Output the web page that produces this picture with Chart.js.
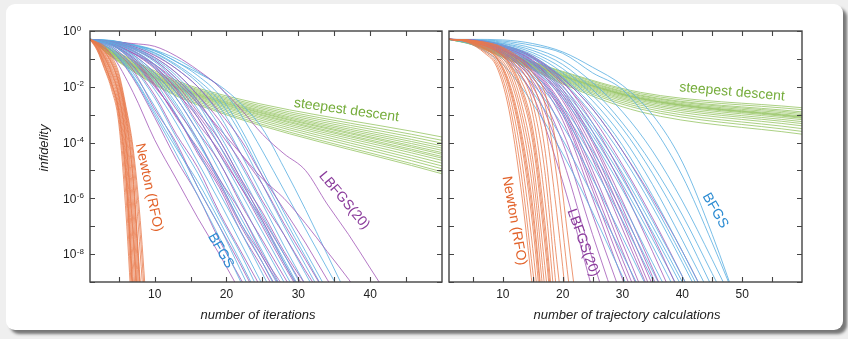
<!DOCTYPE html>
<html>
<head>
<meta charset="utf-8">
<script src="https://cdn.jsdelivr.net/npm/chart.js@4.4.1/dist/chart.umd.min.js"></script>
<style>
  html, body { margin: 0; padding: 0; }
  body { width: 848px; height: 339px; background: #efefef; position: relative; overflow: hidden; }
  .card { position: absolute; left: 6px; top: 4px; width: 837px; height: 326px; background: #fff;
          border-radius: 9px; box-shadow: 4px 4px 3px rgba(0,0,0,0.5); }
  canvas { position: absolute; top: 0; }
  #iterChart { left: 0; }
  #trajChart { left: 446px; }
</style>
</head>
<body>
<div class="card"></div>
<canvas id="iterChart" width="446" height="339"></canvas>
<canvas id="trajChart" width="402" height="339"></canvas>
<script>
const FONT = '"Liberation Sans", Arial, Helvetica, sans-serif';

// eixos (expoentes de 10 para a infidelidade)
const yTickExps = [0, -1, -2, -3, -4, -5, -6, -7, -8, -9];
const yLabelExps = [0, -2, -4, -6, -8];
const iterXTicks = [5, 10, 15, 20, 25, 30, 35, 40, 45];
const trajXTicks = [5, 10, 15, 20, 25, 30, 35, 40, 45, 50, 55];

// ---- painel 1: número de iterações (valores = log10 da infidelidade) ----
const iterNewtonX = [1, 2, 3, 4, 5, 6, 7, 8, 9];
const iterNewton = [
  [-0.3, -0.7, -1.35, -2.1, -3.3, -6.5, -11, null, null],
  [-0.3, -0.66, -1.3, -2.0, -3.1, -5.9, -10.4, null, null],
  [-0.3, -0.63, -1.22, -1.92, -2.95, -5.4, -9.8, null, null],
  [-0.3, -0.6, -1.15, -1.85, -2.8, -5.0, -9.3, null, null],
  [-0.3, -0.58, -1.08, -1.75, -2.65, -4.7, -8.8, -12, null],
  [-0.3, -0.55, -1.02, -1.65, -2.5, -4.4, -8.2, -12, null],
  [-0.3, -0.53, -0.96, -1.55, -2.38, -4.1, -7.6, -11.6, null],
  [-0.3, -0.5, -0.9, -1.45, -2.25, -3.85, -7.0, -11.2, null],
  [-0.3, -0.49, -0.85, -1.38, -2.12, -3.6, -6.5, -10.8, null],
  [-0.3, -0.47, -0.8, -1.3, -2.0, -3.4, -6.0, -10.2, null],
  [-0.3, -0.46, -0.75, -1.2, -1.9, -3.2, -5.5, -9.6, null],
  [-0.3, -0.44, -0.7, -1.12, -1.8, -3.0, -5.1, -9.0, -12],
  [-0.3, -0.43, -0.65, -1.05, -1.7, -2.9, -4.7, -8.0, -11.8],
  [-0.3, -0.42, -0.6, -0.98, -1.6, -2.8, -4.4, -7.3, -11.2],
  [-0.3, -0.4, -0.55, -0.9, -1.5, -2.7, -4.2, -6.8, -10.5],
  [-0.3, -0.62, -1.18, -1.88, -2.85, -5.2, -9.6, null, null],
  [-0.3, -0.52, -0.93, -1.5, -2.3, -3.95, -7.3, -11.4, null],
  [-0.3, -0.45, -0.72, -1.15, -1.85, -3.1, -5.3, -9.3, null]
];

const iterBfgsX = [1, 4, 7, 10, 13, 16, 19, 22, 25, 28, 31, 34, 37];
const iterBfgs = [
  [-0.3, -0.7, -1.65, -3.0, -4.4, -5.9, -7.4, -9.0, null, null, null, null, null],
  [-0.3, -0.6, -1.5, -2.7, -4.1, -5.6, -7.0, -8.6, -10.2, null, null, null, null],
  [-0.3, -0.55, -1.3, -2.4, -3.8, -5.1, -6.6, -8.0, -9.6, null, null, null, null],
  [-0.3, -0.5, -1.1, -2.1, -3.3, -4.7, -6.1, -7.6, -9.1, null, null, null, null],
  [-0.3, -0.5, -1.0, -1.8, -3.0, -4.3, -5.8, -7.2, -8.7, -10.2, null, null, null],
  [-0.3, -0.45, -0.9, -1.6, -2.6, -3.9, -5.4, -6.9, -8.3, -9.8, null, null, null],
  [-0.3, -0.45, -0.85, -1.5, -2.4, -3.6, -5.0, -6.5, -7.9, -9.4, null, null, null],
  [-0.3, -0.42, -0.75, -1.3, -2.2, -3.4, -4.7, -6.1, -7.6, -9.0, -10.5, null, null],
  [-0.3, -0.42, -0.7, -1.2, -2.0, -3.1, -4.4, -5.8, -7.2, -8.6, -10.0, null, null],
  [-0.3, -0.4, -0.65, -1.1, -1.8, -2.8, -4.1, -5.5, -6.9, -8.3, -9.7, null, null],
  [-0.3, -0.4, -0.6, -1.0, -1.6, -2.5, -3.7, -5.1, -6.6, -8.0, -9.4, null, null],
  [-0.3, -0.38, -0.58, -0.95, -1.5, -2.3, -3.4, -4.8, -6.2, -7.7, -9.1, null, null],
  [-0.3, -0.37, -0.55, -0.85, -1.35, -2.0, -3.0, -4.4, -5.9, -7.3, -8.7, -10.1, null],
  [-0.3, -0.36, -0.52, -0.8, -1.25, -1.85, -2.7, -4.0, -5.5, -7.0, -8.4, -9.8, null],
  [-0.3, -0.35, -0.5, -0.72, -1.1, -1.6, -2.3, -3.5, -5.0, -6.5, -7.9, -9.3, null],
  [-0.3, -0.35, -0.48, -0.68, -1.0, -1.45, -2.0, -3.0, -4.3, -5.7, -7.1, -8.5, -9.9],
  [-0.3, -0.34, -0.5, -0.7, -1.1, -1.5, -1.95, -2.6, -3.5, -4.9, -6.4, -8.0, -9.6],
  [-0.3, -0.65, -1.6, -2.9, -4.2, -5.4, -6.8, -8.3, -9.8, null, null, null, null],
  [-0.3, -0.48, -0.95, -1.7, -2.7, -4.0, -5.3, -6.7, -8.1, -9.5, null, null, null],
  [-0.3, -0.4, -0.62, -1.05, -1.7, -2.6, -3.9, -5.3, -6.8, -8.2, -9.6, null, null],
  [-0.3, -0.36, -0.5, -0.78, -1.2, -1.75, -2.5, -3.7, -5.2, -6.7, -8.1, -9.5, null]
];

const iterLbfgsX = [1, 4, 7, 10, 13, 16, 19, 22, 25, 28, 31, 34, 37, 40, 43];
const iterLbfgs = [
  [-0.3, -0.85, -2.2, -3.9, -5.3, -6.7, -8.0, -9.4, null, null, null, null, null, null, null],
  [-0.3, -0.7, -1.7, -3.1, -4.6, -5.9, -7.5, -8.9, -10.3, null, null, null, null, null, null],
  [-0.3, -0.6, -1.4, -2.8, -4.0, -5.6, -7.0, -8.4, -9.9, null, null, null, null, null, null],
  [-0.3, -0.55, -1.25, -2.3, -3.7, -4.9, -6.5, -7.9, -9.3, null, null, null, null, null, null],
  [-0.3, -0.5, -1.1, -2.0, -3.0, -4.4, -5.6, -7.2, -8.5, -9.9, null, null, null, null, null],
  [-0.3, -0.48, -0.95, -1.7, -2.8, -3.9, -5.3, -6.5, -8.0, -9.2, null, null, null, null, null],
  [-0.3, -0.45, -0.85, -1.5, -2.4, -3.6, -4.7, -6.2, -7.5, -8.8, -10.1, null, null, null, null],
  [-0.3, -0.45, -0.8, -1.35, -2.2, -3.1, -4.4, -5.6, -7.0, -8.4, -9.7, null, null, null, null],
  [-0.3, -0.42, -0.7, -1.2, -1.9, -2.9, -3.9, -5.3, -6.5, -7.9, -9.1, null, null, null, null],
  [-0.3, -0.4, -0.65, -1.05, -1.7, -2.5, -3.6, -4.7, -6.1, -7.3, -8.6, -9.8, null, null, null],
  [-0.3, -0.4, -0.6, -0.95, -1.5, -2.3, -3.2, -4.4, -5.5, -6.9, -8.2, -9.5, null, null, null],
  [-0.3, -0.38, -0.55, -0.88, -1.35, -2.0, -2.9, -3.9, -5.2, -6.4, -7.6, -8.9, -10.1, null, null],
  [-0.3, -0.45, -0.8, -1.2, -1.8, -2.6, -3.5, -4.4, -5.3, -6.0, -6.9, -7.9, -8.9, -10.0, null],
  [-0.3, -0.38, -0.45, -0.55, -0.9, -1.4, -2.0, -2.8, -3.7, -4.4, -5.0, -6.2, -7.3, -8.5, -9.7],
  [-0.3, -0.5, -1.0, -1.9, -3.1, -4.2, -5.4, -6.9, -8.1, -9.4, null, null, null, null, null],
  [-0.3, -0.42, -0.72, -1.25, -2.1, -3.3, -4.3, -5.6, -6.8, -8.3, -9.6, null, null, null, null],
  [-0.3, -0.5, -1.05, -1.95, -3.05, -4.3, -5.5, -7.0, -8.3, -9.7, null, null, null, null, null],
  [-0.3, -0.44, -0.78, -1.3, -2.05, -3.0, -4.1, -5.4, -6.7, -8.0, -9.3, null, null, null, null]
];

const iterSdX = [1, 2, 4, 7, 11, 16, 50];
const iterSd = [
  [-0.3, -0.38, -0.65, -1.05, -1.55, -2.05, -3.8],
  [-0.3, -0.4, -0.68, -1.08, -1.6, -2.1, -3.92],
  [-0.3, -0.4, -0.7, -1.12, -1.63, -2.14, -4.02],
  [-0.3, -0.42, -0.72, -1.15, -1.67, -2.18, -4.12],
  [-0.3, -0.42, -0.74, -1.18, -1.7, -2.22, -4.2],
  [-0.3, -0.43, -0.76, -1.2, -1.73, -2.25, -4.28],
  [-0.3, -0.44, -0.77, -1.22, -1.76, -2.28, -4.36],
  [-0.3, -0.44, -0.78, -1.24, -1.78, -2.3, -4.42],
  [-0.3, -0.45, -0.8, -1.26, -1.8, -2.33, -4.5],
  [-0.3, -0.45, -0.81, -1.28, -1.83, -2.36, -4.56],
  [-0.3, -0.46, -0.83, -1.3, -1.86, -2.4, -4.64],
  [-0.3, -0.47, -0.85, -1.33, -1.9, -2.44, -4.74],
  [-0.3, -0.48, -0.87, -1.36, -1.94, -2.49, -4.84],
  [-0.3, -0.49, -0.89, -1.39, -1.98, -2.54, -4.94],
  [-0.3, -0.5, -0.91, -1.42, -2.03, -2.6, -5.05],
  [-0.3, -0.5, -0.93, -1.45, -2.07, -2.65, -5.12]
];

// ---- painel 2: número de cálculos de trajetória ----
const trajNewtonX = [1, 4, 7, 9, 11, 13, 15, 17, 19, 21, 23];
const trajNewton = [
  [-0.3, -0.4, -0.8, -1.3, -2.8, -5.6, -9.3, null, null, null, null],
  [-0.3, -0.39, -0.75, -1.2, -2.5, -5.0, -8.6, -12, null, null, null],
  [-0.3, -0.38, -0.7, -1.1, -2.2, -4.4, -7.8, -12, null, null, null],
  [-0.3, -0.37, -0.66, -1.0, -2.0, -3.9, -7.0, -11.5, null, null, null],
  [-0.3, -0.36, -0.62, -0.95, -1.8, -3.5, -6.3, -10.8, null, null, null],
  [-0.3, -0.36, -0.6, -0.9, -1.6, -3.1, -5.7, -10, null, null, null],
  [-0.3, -0.35, -0.57, -0.85, -1.45, -2.8, -5.1, -9.2, null, null, null],
  [-0.3, -0.35, -0.54, -0.8, -1.3, -2.5, -4.6, -8.4, -12.5, null, null],
  [-0.3, -0.34, -0.52, -0.75, -1.2, -2.2, -4.0, -7.6, -12, null, null],
  [-0.3, -0.34, -0.5, -0.7, -1.1, -1.95, -3.5, -6.8, -11.5, null, null],
  [-0.3, -0.33, -0.48, -0.66, -1.0, -1.75, -3.0, -6.0, -10.5, null, null],
  [-0.3, -0.33, -0.46, -0.62, -0.92, -1.55, -2.6, -5.0, -9.4, null, null],
  [-0.3, -0.33, -0.44, -0.58, -0.84, -1.35, -2.2, -4.2, -8.2, -12, null],
  [-0.3, -0.32, -0.42, -0.55, -0.78, -1.2, -1.9, -3.3, -6.5, -10.5, null],
  [-0.3, -0.32, -0.41, -0.52, -0.74, -1.08, -1.65, -2.6, -5.2, -9.0, -12],
  [-0.3, -0.32, -0.4, -0.5, -0.7, -1.0, -1.5, -2.2, -4.2, -7.6, -11],
  [-0.3, -0.37, -0.64, -0.98, -1.9, -3.7, -6.6, -11, null, null, null],
  [-0.3, -0.34, -0.51, -0.72, -1.15, -2.05, -3.75, -7.2, -11.8, null, null]
];

const trajBfgsX = [1, 5, 10, 15, 20, 25, 30, 35, 40, 45, 50];
const trajBfgs = [
  [-0.3, -0.5, -1.2, -2.6, -4.4, -6.5, -8.8, -11, null, null, null],
  [-0.3, -0.45, -1.0, -2.2, -3.9, -5.9, -8.0, -10.2, null, null, null],
  [-0.3, -0.42, -0.9, -1.9, -3.4, -5.3, -7.4, -9.6, null, null, null],
  [-0.3, -0.4, -0.8, -1.7, -3.0, -4.8, -6.8, -8.9, -11, null, null],
  [-0.3, -0.38, -0.75, -1.5, -2.7, -4.3, -6.2, -8.3, -10.4, null, null],
  [-0.3, -0.37, -0.7, -1.35, -2.4, -3.9, -5.7, -7.7, -9.8, null, null],
  [-0.3, -0.36, -0.65, -1.2, -2.2, -3.6, -5.3, -7.2, -9.2, -11.3, null],
  [-0.3, -0.35, -0.6, -1.1, -2.0, -3.3, -4.9, -6.8, -8.8, -10.9, null],
  [-0.3, -0.35, -0.56, -1.0, -1.8, -3.0, -4.5, -6.3, -8.3, -10.4, null],
  [-0.3, -0.34, -0.52, -0.92, -1.65, -2.7, -4.1, -5.9, -7.9, -10.0, null],
  [-0.3, -0.34, -0.5, -0.85, -1.5, -2.5, -3.8, -5.5, -7.5, -9.6, null],
  [-0.3, -0.33, -0.46, -0.78, -1.35, -2.3, -3.5, -5.1, -7.0, -9.2, null],
  [-0.3, -0.33, -0.44, -0.7, -1.2, -2.1, -3.3, -4.8, -6.6, -8.7, -10.8],
  [-0.3, -0.32, -0.4, -0.62, -1.05, -1.85, -2.9, -4.3, -6.1, -8.2, -10.4],
  [-0.3, -0.32, -0.36, -0.52, -0.8, -1.5, -2.1, -3.4, -5.2, -7.6, -10.2],
  [-0.3, -0.3, -0.32, -0.45, -0.75, -1.3, -1.95, -3.0, -4.7, -7.3, -10.3],
  [-0.3, -0.4, -0.78, -1.6, -2.85, -4.55, -6.5, -8.6, -10.7, null, null],
  [-0.3, -0.36, -0.62, -1.15, -2.1, -3.45, -5.1, -7.0, -9.0, -11.1, null],
  [-0.3, -0.37, -0.68, -1.3, -2.3, -3.75, -5.5, -7.45, -9.5, null, null],
  [-0.3, -0.34, -0.54, -0.96, -1.7, -2.8, -4.3, -6.1, -8.1, -10.2, null]
];

const trajLbfgsX = [1, 5, 10, 15, 20, 25, 30, 35, 40, 45];
const trajLbfgs = [
  [-0.3, -0.4, -0.9, -2.3, -5.4, -9.3, null, null, null, null],
  [-0.3, -0.4, -0.85, -2.0, -4.6, -8.2, -11.5, null, null, null],
  [-0.3, -0.38, -0.8, -1.8, -4.0, -7.3, -10.5, null, null, null],
  [-0.3, -0.38, -0.75, -1.65, -3.6, -6.6, -9.6, null, null, null],
  [-0.3, -0.36, -0.7, -1.5, -3.2, -6.0, -8.9, -11.5, null, null],
  [-0.3, -0.36, -0.66, -1.4, -2.9, -5.5, -8.2, -10.8, null, null],
  [-0.3, -0.35, -0.62, -1.3, -2.7, -5.0, -7.6, -10.2, null, null],
  [-0.3, -0.35, -0.6, -1.2, -2.5, -4.6, -7.1, -9.6, null, null],
  [-0.3, -0.34, -0.57, -1.1, -2.3, -4.2, -6.6, -9.1, -11.5, null],
  [-0.3, -0.34, -0.55, -1.05, -2.1, -3.9, -6.1, -8.5, -10.9, null],
  [-0.3, -0.33, -0.52, -0.98, -1.95, -3.6, -5.6, -7.9, -10.3, null],
  [-0.3, -0.33, -0.5, -0.92, -1.8, -3.3, -5.2, -7.3, -9.6, null],
  [-0.3, -0.32, -0.5, -0.9, -1.7, -2.8, -4.3, -6.0, -7.9, -10.0],
  [-0.3, -0.33, -0.52, -0.95, -1.85, -3.1, -4.8, -6.7, -8.8, -11.0],
  [-0.3, -0.37, -0.68, -1.45, -3.0, -5.7, -8.5, -11, null, null],
  [-0.3, -0.35, -0.58, -1.15, -2.4, -4.4, -6.85, -9.4, null, null],
  [-0.3, -0.36, -0.64, -1.35, -2.8, -5.2, -7.9, -10.5, null, null],
  [-0.3, -0.34, -0.56, -1.08, -2.2, -4.0, -6.35, -8.8, -11.2, null]
];

const trajSdX = [1, 5, 10, 15, 20, 33, 60];
const trajSd = [
  [-0.3, -0.4, -0.7, -1.1, -1.45, -2.2, -2.75],
  [-0.3, -0.41, -0.72, -1.12, -1.48, -2.25, -2.82],
  [-0.3, -0.42, -0.74, -1.14, -1.52, -2.3, -2.9],
  [-0.3, -0.42, -0.75, -1.16, -1.55, -2.33, -2.95],
  [-0.3, -0.43, -0.77, -1.18, -1.58, -2.37, -3.0],
  [-0.3, -0.43, -0.78, -1.2, -1.6, -2.4, -3.05],
  [-0.3, -0.44, -0.8, -1.22, -1.63, -2.43, -3.1],
  [-0.3, -0.44, -0.81, -1.24, -1.66, -2.46, -3.13],
  [-0.3, -0.45, -0.83, -1.26, -1.69, -2.5, -3.18],
  [-0.3, -0.45, -0.84, -1.28, -1.72, -2.55, -3.25],
  [-0.3, -0.46, -0.86, -1.3, -1.75, -2.6, -3.32],
  [-0.3, -0.47, -0.88, -1.32, -1.78, -2.66, -3.4],
  [-0.3, -0.48, -0.9, -1.35, -1.82, -2.73, -3.5],
  [-0.3, -0.49, -0.92, -1.37, -1.86, -2.8, -3.6],
  [-0.3, -0.5, -0.95, -1.4, -1.9, -2.9, -3.7],
  [-0.3, -0.44, -0.79, -1.21, -1.62, -2.42, -3.08]
];

// cores
const cNewton = 'rgba(232,122,76,0.78)';
const cBfgs = 'rgba(92,176,226,0.82)';
const cLbfgs = 'rgba(162,88,184,0.8)';
const cSd = 'rgba(150,196,100,0.8)';

// Monta um dataset por curva
function curvas(xs, rows, cor) {
  return rows.map(row => ({
    data: row.map((v, i) => ({ x: xs[i], y: v === null ? null : Math.pow(10, v) })),
    borderColor: cor,
    borderWidth: 1,
    pointRadius: 0,
    fill: false,
    cubicInterpolationMode: 'monotone'
  }));
}

// BFGS e LBFGS alternados, para ficarem misturados no desenho
function misturar(a, b) {
  const out = [];
  for (let i = 0; i < Math.max(a.length, b.length); i++) {
    if (a[i]) out.push(a[i]);
    if (b[i]) out.push(b[i]);
  }
  return out;
}

// Moldura, ticks internos, rótulos e anotações
const decorPlugin = {
  id: 'decor',
  afterDatasetsDraw(chart, args, opts) {
    const { ctx, chartArea: a, scales: { x, y } } = chart;
    ctx.save();
    ctx.strokeStyle = '#444';
    ctx.lineWidth = 1.4;
    ctx.strokeRect(a.left, a.top, a.right - a.left, a.bottom - a.top);

    ctx.lineWidth = 1.1;
    ctx.beginPath();
    opts.xTicks.forEach(v => {
      const px = Math.round(x.getPixelForValue(v)) + 0.5;
      ctx.moveTo(px, a.bottom); ctx.lineTo(px, a.bottom - 5);
      ctx.moveTo(px, a.top); ctx.lineTo(px, a.top + 5);
    });
    yTickExps.forEach(e => {
      const py = Math.round(y.getPixelForValue(Math.pow(10, e))) + 0.5;
      ctx.moveTo(a.left, py); ctx.lineTo(a.left + 5, py);
      ctx.moveTo(a.right, py); ctx.lineTo(a.right - 5, py);
    });
    ctx.stroke();

    ctx.fillStyle = '#222';
    if (opts.yLabels) {
      yLabelExps.forEach(e => {
        const py = y.getPixelForValue(Math.pow(10, e));
        ctx.font = '12px ' + FONT;
        ctx.textAlign = 'left';
        ctx.textBaseline = 'middle';
        ctx.fillText('10', 63, py + 1);
        const w = ctx.measureText('10').width;
        ctx.font = '8px ' + FONT;
        ctx.textBaseline = 'alphabetic';
        ctx.fillText(String(e), 63 + w + 0.5, py - 0.5);
      });
      ctx.save();
      ctx.translate(44, 148);
      ctx.rotate(-Math.PI / 2);
      ctx.font = 'italic 13px ' + FONT;
      ctx.textAlign = 'center';
      ctx.textBaseline = 'middle';
      ctx.fillText('infidelity', 0, 0);
      ctx.restore();
    }

    ctx.font = 'italic 13px ' + FONT;
    ctx.textAlign = 'center';
    ctx.textBaseline = 'middle';
    ctx.fillText(opts.xTitle, opts.xTitleX, 315);

    opts.notes.forEach(n => {
      const px = x.getPixelForValue(n.x);
      const py = y.getPixelForValue(Math.pow(10, n.e));
      ctx.save();
      ctx.translate(px, py);
      ctx.rotate(n.angle * Math.PI / 180);
      ctx.fillStyle = n.color;
      ctx.font = '14px ' + FONT;
      ctx.textAlign = 'center';
      ctx.textBaseline = 'middle';
      ctx.fillText(n.text, 0, 0);
      ctx.restore();
    });
    ctx.restore();
  }
};

function criarGrafico(id, cfg) {
  return new Chart(document.getElementById(id), {
    type: 'line',
    data: { datasets: cfg.datasets },
    plugins: [decorPlugin],
    options: {
      responsive: false,
      animation: false,
      events: [],
      layout: { padding: cfg.padding },
      plugins: {
        legend: { display: false },
        tooltip: { enabled: false },
        decor: cfg.decor
      },
      scales: {
        x: {
          type: 'linear',
          min: cfg.xMin,
          max: cfg.xMax,
          afterBuildTicks: s => { s.ticks = cfg.decor.xTicks.map(v => ({ value: v })); },
          afterFit: s => { s.height = 57; },
          grid: { display: false },
          border: { display: false },
          ticks: {
            autoSkip: false,
            maxRotation: 0,
            padding: -3,
            color: '#222',
            font: { family: FONT, size: 12 },
            callback: v => (v % 10 === 0 ? String(v) : '')
          }
        },
        y: { type: 'logarithmic', display: false, min: 1e-9, max: 1 }
      }
    }
  });
}

criarGrafico('iterChart', {
  xMin: 1, xMax: 50,
  padding: { left: 90, top: 31, right: 4, bottom: 0 },
  datasets: [].concat(
    curvas(iterNewtonX, iterNewton, cNewton),
    misturar(curvas(iterBfgsX, iterBfgs, cBfgs), curvas(iterLbfgsX, iterLbfgs, cLbfgs)),
    curvas(iterSdX, iterSd, cSd)
  ),
  decor: {
    xTicks: iterXTicks,
    yLabels: true,
    xTitle: 'number of iterations',
    xTitleX: 258,
    notes: [
      { text: 'steepest descent', x: 36.7, e: -2.84, angle: 8, color: '#76ad3c' },
      { text: 'Newton (RFO)', x: 9.2, e: -5.61, angle: 78, color: '#e2622a' },
      { text: 'BFGS', x: 19.2, e: -7.88, angle: 60, color: '#2b8bd2' },
      { text: 'LBFGS(20)', x: 36.4, e: -6.08, angle: 50, color: '#8b3c9c' }
    ]
  }
});

criarGrafico('trajChart', {
  xMin: 1, xMax: 60,
  padding: { left: 3, top: 31, right: 46, bottom: 0 },
  datasets: [].concat(
    curvas(trajNewtonX, trajNewton, cNewton),
    misturar(curvas(trajBfgsX, trajBfgs, cBfgs), curvas(trajLbfgsX, trajLbfgs, cLbfgs)),
    curvas(trajSdX, trajSd, cSd)
  ),
  decor: {
    xTicks: trajXTicks,
    yLabels: false,
    xTitle: 'number of trajectory calculations',
    xTitleX: 181,
    notes: [
      { text: 'steepest descent', x: 48.3, e: -2.19, angle: 5, color: '#76ad3c' },
      { text: 'Newton (RFO)', x: 11.9, e: -6.8, angle: 80, color: '#e2622a' },
      { text: 'LBFGS(20)', x: 23.4, e: -7.59, angle: 70, color: '#8b3c9c' },
      { text: 'BFGS', x: 45.5, e: -6.44, angle: 60, color: '#2b8bd2' }
    ]
  }
});
</script>
</body>
</html>
